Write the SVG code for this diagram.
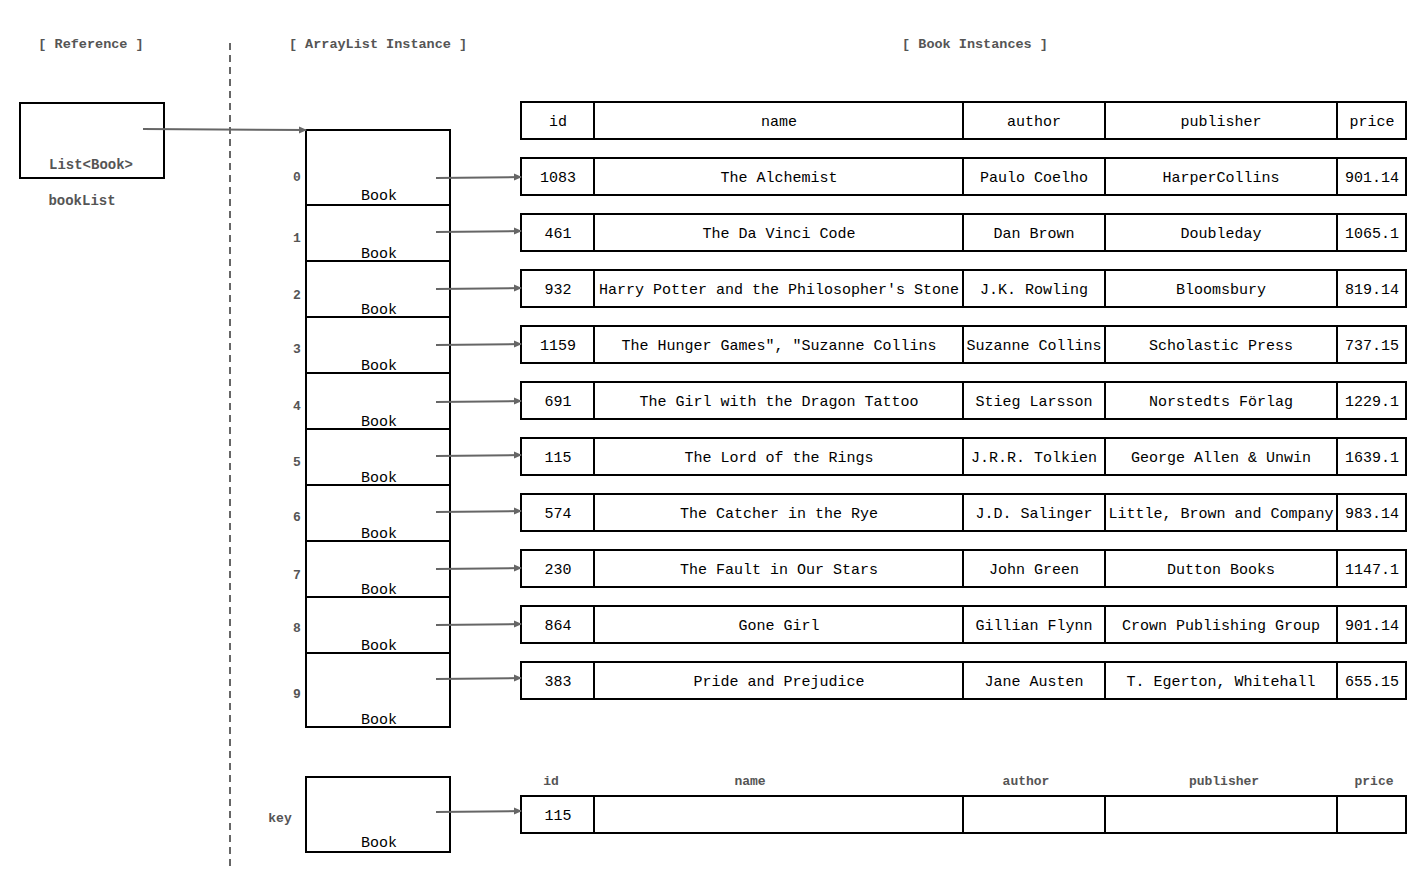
<svg xmlns="http://www.w3.org/2000/svg" width="1428" height="888" viewBox="0 0 1428 888">
<style>
.box{fill:#fff;stroke:#000;stroke-width:2}
.t{font-family:"Liberation Mono",monospace;font-size:15px;fill:#000;text-anchor:middle}
.lbl{font-family:"Liberation Mono",monospace;font-size:14px;font-weight:bold;fill:#555;text-anchor:middle}
.sec{font-family:"Liberation Mono",monospace;font-size:13.5px;font-weight:bold;fill:#555;text-anchor:middle}
.idx{font-family:"Liberation Mono",monospace;font-size:13px;font-weight:bold;fill:#555;text-anchor:middle}
.ar{stroke:#666;stroke-width:2;fill:none;marker-end:url(#ah)}
.div{stroke:#666;stroke-width:2;stroke-dasharray:7,5}
</style>
<defs>
<marker id="ah" markerWidth="8" markerHeight="8" refX="7" refY="4" orient="auto" markerUnits="userSpaceOnUse">
<path d="M0,0.5 L8,4 L0,7.5 Z" fill="#666"/>
</marker>
</defs>
<rect width="1428" height="888" fill="#fff"/>
<g id="sections">
<text class="sec" x="91" y="48">[ Reference ]</text>
<text class="sec" x="378" y="48">[ ArrayList Instance ]</text>
<text class="sec" x="975" y="48">[ Book Instances ]</text>
<line class="div" x1="230" y1="43" x2="230" y2="866"/>
</g>
<g id="reference">
<rect class="box" x="20" y="103" width="144" height="75"/>
<text class="lbl" x="91" y="169">List&lt;Book&gt;</text>
<text class="lbl" x="82" y="205">bookList</text>
</g>
<g id="arraylist">
<rect class="box" x="306" y="130" width="144" height="597"/>
<line stroke="#000" stroke-width="2" x1="306" y1="205" x2="450" y2="205"/>
<line stroke="#000" stroke-width="2" x1="306" y1="261" x2="450" y2="261"/>
<line stroke="#000" stroke-width="2" x1="306" y1="317" x2="450" y2="317"/>
<line stroke="#000" stroke-width="2" x1="306" y1="373" x2="450" y2="373"/>
<line stroke="#000" stroke-width="2" x1="306" y1="429" x2="450" y2="429"/>
<line stroke="#000" stroke-width="2" x1="306" y1="485" x2="450" y2="485"/>
<line stroke="#000" stroke-width="2" x1="306" y1="541" x2="450" y2="541"/>
<line stroke="#000" stroke-width="2" x1="306" y1="597" x2="450" y2="597"/>
<line stroke="#000" stroke-width="2" x1="306" y1="653" x2="450" y2="653"/>
<text class="t" x="379" y="200">Book</text>
<text class="t" x="379" y="258">Book</text>
<text class="t" x="379" y="314">Book</text>
<text class="t" x="379" y="370">Book</text>
<text class="t" x="379" y="426">Book</text>
<text class="t" x="379" y="482">Book</text>
<text class="t" x="379" y="538">Book</text>
<text class="t" x="379" y="594">Book</text>
<text class="t" x="379" y="650">Book</text>
<text class="t" x="379" y="724">Book</text>
<text class="idx" x="297" y="181">0</text>
<text class="idx" x="297" y="242">1</text>
<text class="idx" x="297" y="299">2</text>
<text class="idx" x="297" y="353">3</text>
<text class="idx" x="297" y="410">4</text>
<text class="idx" x="297" y="466">5</text>
<text class="idx" x="297" y="521">6</text>
<text class="idx" x="297" y="579">7</text>
<text class="idx" x="297" y="632">8</text>
<text class="idx" x="297" y="698">9</text>
</g>
<g id="key">
<rect class="box" x="306" y="777" width="144" height="75"/>
<text class="t" x="379" y="847">Book</text>
<text class="idx" x="280" y="822">key</text>
</g>
<g id="table-header">
<rect class="box" x="521" y="102" width="885" height="37"/>
<line stroke="#000" stroke-width="2" x1="594" y1="102" x2="594" y2="139"/>
<line stroke="#000" stroke-width="2" x1="963" y1="102" x2="963" y2="139"/>
<line stroke="#000" stroke-width="2" x1="1105" y1="102" x2="1105" y2="139"/>
<line stroke="#000" stroke-width="2" x1="1337" y1="102" x2="1337" y2="139"/>
<text class="t" x="558" y="126">id</text>
<text class="t" x="779" y="126">name</text>
<text class="t" x="1034" y="126">author</text>
<text class="t" x="1221" y="126">publisher</text>
<text class="t" x="1372" y="126">price</text>
</g>
<g id="book-rows">
<g id="book0" transform="translate(0,158)">
<rect class="box" x="521" y="0" width="885" height="37"/><path d="M594,0V37M963,0V37M1105,0V37M1337,0V37" stroke="#000" stroke-width="2"/>
<text class="t" x="558" y="24">1083</text><text class="t" x="779" y="24">The Alchemist</text><text class="t" x="1034" y="24">Paulo Coelho</text><text class="t" x="1221" y="24">HarperCollins</text><text class="t" x="1372" y="24">901.14</text>
</g>
<g id="book1" transform="translate(0,214)">
<rect class="box" x="521" y="0" width="885" height="37"/><path d="M594,0V37M963,0V37M1105,0V37M1337,0V37" stroke="#000" stroke-width="2"/>
<text class="t" x="558" y="24">461</text><text class="t" x="779" y="24">The Da Vinci Code</text><text class="t" x="1034" y="24">Dan Brown</text><text class="t" x="1221" y="24">Doubleday</text><text class="t" x="1372" y="24">1065.1</text>
</g>
<g id="book2" transform="translate(0,270)">
<rect class="box" x="521" y="0" width="885" height="37"/><path d="M594,0V37M963,0V37M1105,0V37M1337,0V37" stroke="#000" stroke-width="2"/>
<text class="t" x="558" y="24">932</text><text class="t" x="779" y="24">Harry Potter and the Philosopher's Stone</text><text class="t" x="1034" y="24">J.K. Rowling</text><text class="t" x="1221" y="24">Bloomsbury</text><text class="t" x="1372" y="24">819.14</text>
</g>
<g id="book3" transform="translate(0,326)">
<rect class="box" x="521" y="0" width="885" height="37"/><path d="M594,0V37M963,0V37M1105,0V37M1337,0V37" stroke="#000" stroke-width="2"/>
<text class="t" x="558" y="24">1159</text><text class="t" x="779" y="24">The Hunger Games", "Suzanne Collins</text><text class="t" x="1034" y="24">Suzanne Collins</text><text class="t" x="1221" y="24">Scholastic Press</text><text class="t" x="1372" y="24">737.15</text>
</g>
<g id="book4" transform="translate(0,382)">
<rect class="box" x="521" y="0" width="885" height="37"/><path d="M594,0V37M963,0V37M1105,0V37M1337,0V37" stroke="#000" stroke-width="2"/>
<text class="t" x="558" y="24">691</text><text class="t" x="779" y="24">The Girl with the Dragon Tattoo</text><text class="t" x="1034" y="24">Stieg Larsson</text><text class="t" x="1221" y="24">Norstedts Förlag</text><text class="t" x="1372" y="24">1229.1</text>
</g>
<g id="book5" transform="translate(0,438)">
<rect class="box" x="521" y="0" width="885" height="37"/><path d="M594,0V37M963,0V37M1105,0V37M1337,0V37" stroke="#000" stroke-width="2"/>
<text class="t" x="558" y="24">115</text><text class="t" x="779" y="24">The Lord of the Rings</text><text class="t" x="1034" y="24">J.R.R. Tolkien</text><text class="t" x="1221" y="24">George Allen &amp; Unwin</text><text class="t" x="1372" y="24">1639.1</text>
</g>
<g id="book6" transform="translate(0,494)">
<rect class="box" x="521" y="0" width="885" height="37"/><path d="M594,0V37M963,0V37M1105,0V37M1337,0V37" stroke="#000" stroke-width="2"/>
<text class="t" x="558" y="24">574</text><text class="t" x="779" y="24">The Catcher in the Rye</text><text class="t" x="1034" y="24">J.D. Salinger</text><text class="t" x="1221" y="24">Little, Brown and Company</text><text class="t" x="1372" y="24">983.14</text>
</g>
<g id="book7" transform="translate(0,550)">
<rect class="box" x="521" y="0" width="885" height="37"/><path d="M594,0V37M963,0V37M1105,0V37M1337,0V37" stroke="#000" stroke-width="2"/>
<text class="t" x="558" y="24">230</text><text class="t" x="779" y="24">The Fault in Our Stars</text><text class="t" x="1034" y="24">John Green</text><text class="t" x="1221" y="24">Dutton Books</text><text class="t" x="1372" y="24">1147.1</text>
</g>
<g id="book8" transform="translate(0,606)">
<rect class="box" x="521" y="0" width="885" height="37"/><path d="M594,0V37M963,0V37M1105,0V37M1337,0V37" stroke="#000" stroke-width="2"/>
<text class="t" x="558" y="24">864</text><text class="t" x="779" y="24">Gone Girl</text><text class="t" x="1034" y="24">Gillian Flynn</text><text class="t" x="1221" y="24">Crown Publishing Group</text><text class="t" x="1372" y="24">901.14</text>
</g>
<g id="book9" transform="translate(0,662)">
<rect class="box" x="521" y="0" width="885" height="37"/><path d="M594,0V37M963,0V37M1105,0V37M1337,0V37" stroke="#000" stroke-width="2"/>
<text class="t" x="558" y="24">383</text><text class="t" x="779" y="24">Pride and Prejudice</text><text class="t" x="1034" y="24">Jane Austen</text><text class="t" x="1221" y="24">T. Egerton, Whitehall</text><text class="t" x="1372" y="24">655.15</text>
</g>
</g>
<g id="key-book">
<text class="idx" x="551" y="785">id</text>
<text class="idx" x="750" y="785">name</text>
<text class="idx" x="1026" y="785">author</text>
<text class="idx" x="1224" y="785">publisher</text>
<text class="idx" x="1374" y="785">price</text>
<rect class="box" x="521" y="796" width="885" height="37"/>
<path d="M594,796V833M963,796V833M1105,796V833M1337,796V833" stroke="#000" stroke-width="2"/>
<text class="t" x="558" y="820">115</text>
</g>
<g id="connectors">
<line class="ar" x1="143" y1="129" x2="306" y2="130"/>
<line class="ar" x1="436" y1="178" x2="521" y2="177"/>
<line class="ar" x1="436" y1="232" x2="521" y2="231"/>
<line class="ar" x1="436" y1="289" x2="521" y2="288"/>
<line class="ar" x1="436" y1="345" x2="521" y2="344"/>
<line class="ar" x1="436" y1="402" x2="521" y2="401"/>
<line class="ar" x1="436" y1="456" x2="521" y2="455"/>
<line class="ar" x1="436" y1="512" x2="521" y2="511"/>
<line class="ar" x1="436" y1="569" x2="521" y2="568"/>
<line class="ar" x1="436" y1="625" x2="521" y2="624"/>
<line class="ar" x1="436" y1="679" x2="521" y2="678"/>
<line class="ar" x1="436" y1="812" x2="521" y2="811"/>
</g>
</svg>
